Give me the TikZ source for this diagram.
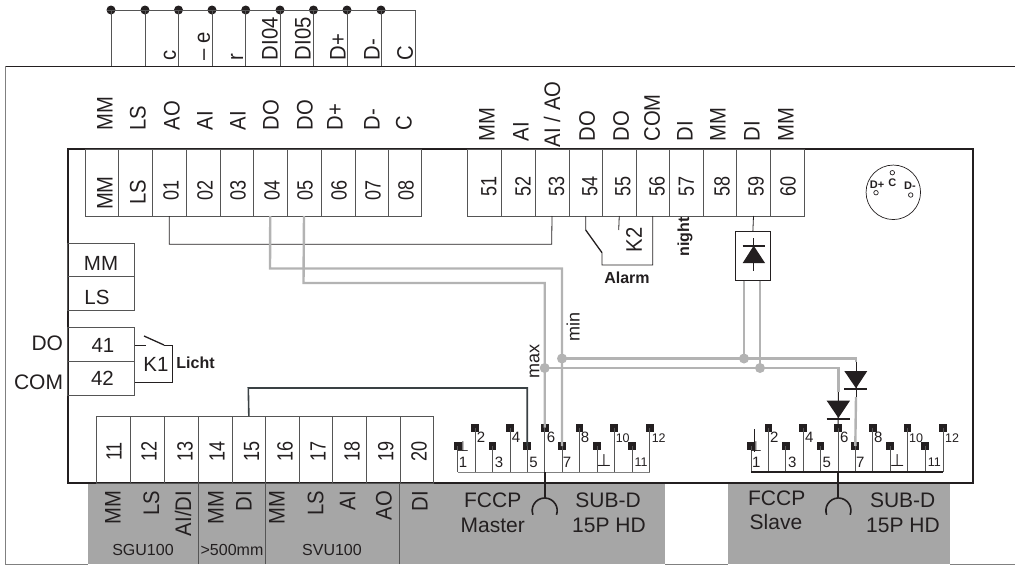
\documentclass[tikz,border=0pt]{standalone}
\usepackage{fontspec}
\setmainfont{Liberation Sans}
\newfontfamily\djv{DejaVu Sans}
\newfontfamily\tallfont[FakeStretch=0.9]{Liberation Sans}
\newfontfamily\numfont[FakeStretch=0.82]{Liberation Sans}
\definecolor{ink}{HTML}{231F20}
\definecolor{wire}{HTML}{B3B3B3}
\definecolor{panel}{HTML}{A6A6A6}
\definecolor{cellline}{HTML}{555555}
\definecolor{slate}{HTML}{3A4144}
\tikzset{
  cell/.style={draw=cellline,line width=0.9pt,anchor=north west,inner sep=0,outer sep=0},
  vtxt/.style={rotate=90,inner sep=0,outer sep=0,text=ink,font=\tallfont\fontsize{22.5}{22.5}\selectfont},
  vup/.style={vtxt,anchor=west},
  vnum/.style={vtxt,anchor=center,font=\numfont\fontsize{22}{22}\selectfont},
  vlow/.style={vtxt,anchor=east},
  htxt/.style={inner sep=0,outer sep=0,text=ink,font=\fontsize{20.5}{20.5}\selectfont},
  bigt/.style={htxt,font=\fontsize{21}{21}\selectfont},
  boldt/.style={inner sep=0,outer sep=0,text=ink,font=\bfseries\fontsize{16}{16}\selectfont},
  pinbox/.style={fill=ink,draw=none,minimum size=7.7pt,inner sep=0,outer sep=0},
  pinnum/.style={inner sep=0,outer sep=0,text=ink,font=\fontsize{15}{15}\selectfont},
  pinsmall/.style={pinnum,font=\fontsize{12.5}{12.5}\selectfont},
  pinground/.style={pinnum,font=\djv\fontsize{17}{17}\selectfont},
  thin wire/.style={draw=ink,line width=0.8pt},
  gray wire/.style={draw=wire,line width=2.4pt},
  junction/.style={circle,fill=wire,draw=none,minimum size=10pt,inner sep=0},
  bus dot/.style={circle,fill=ink,draw=none,minimum size=9pt,inner sep=0},
  small dot/.style={circle,draw=ink,line width=0.7pt,fill=white,minimum size=4.5pt,inner sep=0},
  dintxt/.style={boldt,font=\bfseries\fontsize{11}{11}\selectfont},
  wiretxt/.style={inner sep=0,text=ink,rotate=90,font=\fontsize{18}{18}\selectfont},
}
\begin{document}
\begin{tikzpicture}[x=1pt,y=-1pt]
\useasboundingbox (0,0) rectangle (1015,565);
% grey panels
\node[fill=panel,draw=none,anchor=north west,inner sep=0,minimum width=577pt,minimum height=81pt] (panelA) at (88,483) {};
\node[fill=panel,draw=none,anchor=north west,inner sep=0,minimum width=222pt,minimum height=81pt] (panelB) at (728,483) {};
\draw[cellline,line width=0.9pt] (198,483)--(198,564) (265.5,483)--(265.5,564) (399.5,483)--(399.5,564);
% outer frame
\draw[ink,line width=1pt] (5,66)--(1015,66);
\draw[gray,line width=0.8pt] (5,66)--(5,564)--(88,564) (665,564)--(728,564) (950,564)--(1015,564);
% top bus
\foreach \n/\x in {a/111,b/145,c/178.5,d/212,e/245.7,f/280,g/313.5,h/347,i/381}{
  \node[bus dot] (bus\n) at (\x,10) {};
  \coordinate (foot\n) at (\x,66);
  \draw[cellline,line width=1pt] (bus\n.center)--(foot\n);
}
\coordinate (busend) at (415,10);
\coordinate (busfoot) at (415,66);
\draw[cellline,line width=1pt] (107,10)--(busend)--(busfoot);
\foreach \n/\t/\x in {c/c/170,e/{– e}/204,r/r/237,d4/DI04/270,d5/DI05/303,dp/D+/338,dm/D-/372,cc/C/405}{
  \node[vup] (bl\n) at (\x,60) {\t};
}
% upper labels
\foreach \n/\t/\x in {a/MM/105,b/LS/138,c/AO/172,d/AI/205,e/AI/238,f/DO/271,g/DO/305,h/D+/335,i/D-/372,j/C/404}{
  \node[vup] (ul\n) at (\x,130.5) {\t};
}
\foreach \n/\t/\x in {a/MM/487,b/AI/521,d/DO/587,e/DO/621,f/COM/652,g/DI/685,h/MM/718,i/DI/752,j/MM/786}{
  \node[vup] (vl\n) at (\x,141.5) {\t};
}
\node[vup] (vlc) at (552,147) {AI / AO};
% main box
\node[draw=ink,line width=2pt,anchor=north west,inner sep=0,outer sep=0,minimum width=905pt,minimum height=334pt] (main) at (67.5,149) {};
% upper terminals
\foreach \n/\xa/\w in {mm/85/33.5,ls/118.5/34,01/152.5/33.5,02/186/34,03/220/33.5,04/253.5/33.5,05/287/34,06/321/34,07/355/33,08/388/33.7,
  51/467.7/33.8,52/501.5/33.5,53/535/34,54/569/33.5,55/602.5/33.5,56/636/33.5,57/669.5/34,58/703.5/33,59/736.5/34,60/770.5/33.8}{
  \node[cell,minimum width=\w pt,minimum height=67pt] (t\n) at (\xa,149) {};
}
\node[vtxt,anchor=center] (numMM) at (105,193) {MM};
\node[vtxt,anchor=center] (numLS) at (138,192) {LS};
\foreach \t/\x/\y in {01/171/190,02/205/190,03/238/190,04/272/190,05/305/190,06/339/190,07/373/190,08/406/190,
  51/489/186,52/523/186,53/556.5/186,54/590/186,55/623/186,56/657/186,57/686.5/186,58/722/186,59/756/186,60/788/186}{
  \node[vnum] (num\t) at (\x,\y) {\t};
}
% left terminals
\node[cell,minimum width=67pt,minimum height=33.7pt] (lmm) at (67.5,243) {};
\node[cell,minimum width=67pt,minimum height=34pt] (lls) at (67.5,276.7) {};
\node[cell,minimum width=67pt,minimum height=34pt] (l41) at (67.5,327.7) {};
\node[cell,minimum width=67pt,minimum height=34pt] (l42) at (67.5,361.7) {};
\node[htxt] (txmm) at (101,263.5) {MM};
\node[htxt] (txls) at (97,297) {LS};
\node[htxt] (tx41) at (103,345) {41};
\node[htxt] (tx42) at (102.5,378) {42};
\node[bigt,anchor=east] (txdo) at (63,343) {DO};
\node[bigt,anchor=east] (txcom) at (63,382) {COM};
% K1
\coordinate (k1a) at (146,345);
\coordinate (k1s) at (144,336);
\coordinate (k1b) at (164,345);
\coordinate (k1c) at (172.5,345);
\coordinate (k1d) at (172.5,382.3);
\draw[thin wire] (134.5,345)--(k1a);
\draw[ink,line width=1.3pt] (k1s)--(k1b);
\draw[thin wire] (k1b)--(k1c)--(k1d)--(134.5,382.3);
\node[htxt] (txk1) at (156,364) {K1};
\node[boldt] (txlicht) at (195.5,363) {Licht};
% lower terminals
\foreach \n/\xa/\w in {11/96.7/34,12/130.7/34,13/164.7/33.7,14/198.4/33.6,15/232/33.7,16/265.7/33.8,17/299.5/33,18/332.5/33.8,19/366.3/33.7,20/400/33.7}{
  \node[cell,minimum width=\w pt,minimum height=67pt] (b\n) at (\xa,416) {};
}
\foreach \t/\x in {11/114,12/149,13/185,14/217,15/251.7,16/285,17/318,18/352,19/385.7,20/419}{
  \node[vnum] (numb\t) at (\x,451.5) {\t};
}
% panel labels
\foreach \n/\t/\x in {a/MM/113,b/LS/151.5,d/MM/216,e/DI/244,f/MM/277,g/LS/315.7,h/AI/347.7,i/AO/384,j/DI/420}{
  \node[vlow] (pl\n) at (\x,491) {\t};
}
\node[vlow] (plc) at (183,491) {AI/DI};
\foreach \n/\t/\x in {a/SGU100/143,b/{>500mm}/232,c/SVU100/332}{
  \node[htxt,font=\fontsize{16}{16}\selectfont] (pu\n) at (\x,550) {\t};
}
\node[bigt] (fa) at (492.7,500) {FCCP};
\node[bigt] (fb) at (492.7,525) {Master};
\node[bigt] (fc) at (608,500) {SUB-D};
\node[bigt] (fd) at (609,525) {15P HD};
\node[bigt] (ga) at (776.7,498) {FCCP};
\node[bigt] (gb) at (776,522) {Slave};
\node[bigt] (gc) at (902.7,500) {SUB-D};
\node[bigt] (gd) at (903,525) {15P HD};
% 01-53 link
\coordinate (lk1) at (169.3,244.3);
\coordinate (lk2) at (551.7,244.3);
\draw[thin wire] (t01.south)--(lk1)--(lk2)--(t53.south);
% relay K2
\coordinate (k2a) at (585.7,230);
\coordinate (k2b) at (602,252.7);
\coordinate (k2c) at (602,265);
\coordinate (k2d) at (652.7,265);
\coordinate (k2e) at (618.7,230);
\draw[thin wire] (t54.south)--(k2a);
\draw[ink,line width=1.3pt] (k2a)--(k2b);
\draw[thin wire] (k2b)--(k2c)--(k2d)--(t56.south);
\draw[thin wire] (t55.south)--(k2e);
\node[vtxt,anchor=center] (txk2) at (634,240) {K2};
\node[boldt] (txalarm) at (627,277.7) {Alarm};
\node[boldt,rotate=90] (txnight) at (685,236.7) {night};
% DIN socket
\node[circle,draw=ink,line width=0.7pt,minimum size=54.5pt,inner sep=0] (din) at (893.3,192.3) {};
\node[small dot] (dinp) at (876,192.7) {};
\node[small dot] (dinc) at (892.3,172.7) {};
\node[small dot] (dinm) at (910.7,195) {};
\node[dintxt] (tdp) at (877,184.5) {D+};
\node[dintxt] (tdc) at (892.3,182.5) {C};
\node[dintxt] (tdm) at (910,185.5) {D-};
% master and slave pins
\foreach \p/\x/\y in {1/0/446,2/17.4/427.7,3/34.8/446,4/52.2/427.7,5/69.5/446,6/87/427.7,7/104.3/446,8/121.7/427.7,9/139.2/446,10/156.6/427.7,11/174.2/446,12/192/427.7}{
  \node[pinbox] (m\p) at ({457.7+\x},\y) {};
  \coordinate (mf\p) at ({457.7+\x},472);
  \draw[cellline,line width=0.8pt] (m\p.center)--(mf\p);
  \node[pinbox] (s\p) at ({751+\x},\y) {};
  \coordinate (sf\p) at ({751+\x},472);
  \draw[cellline,line width=0.8pt] (s\p.center)--(sf\p);
}
\draw[gray,line width=1pt] (mf1)--(mf12);
\draw[ink,line width=2pt] (sf1)--(sf12);
\foreach \t/\dx/\y in {1/5.3/462,2/23.3/437.7,3/41.3/462,4/58.3/437.7,5/75.8/462,6/93.3/437.7,7/109.3/462,8/127.3/437.7}{
  \node[pinnum] (mn\t) at ({457.7+\dx},\y) {\t};
  \node[pinnum] (sn\t) at ({751+\dx},\y) {\t};
}
\foreach \w/\o in {m/457.7,s/751}{
  \node[pinsmall] (\w n10) at ({\o+165},437.7) {10};
  \node[pinsmall] (\w n11) at ({\o+183.3},462) {11};
  \node[pinsmall] (\w n12) at ({\o+201},437.7) {12};
  \node[pinground] (\w g) at ({\o+146.3},461) {⊥};
}
\node[pinnum,font=\djv\fontsize{14}{14}\selectfont] (mground) at (463,447) {⊥};
\node[pinnum,font=\djv\fontsize{14}{14}\selectfont] (sground) at (756,447) {⊥};
\coordinate (sgtop) at (754.5,429);
\coordinate (sgbot) at (754.5,452);
\draw[ink,line width=1pt] (sgtop)--(sgbot);
% connectors down to sockets
\foreach \w/\x in {m/544.7,s/838.4}{
  \coordinate (\w st) at (\x,472);
  \coordinate (\w sb) at (\x,498);
  \draw[ink,line width=2pt] (\w st)--(\w sb);
  \draw[ink,line width=1.6pt] (\w sb) arc[start angle=-90,end angle=20,radius=12.5];
  \draw[ink,line width=1.6pt] (\w sb) arc[start angle=-90,end angle=-200,radius=12.5];
}
% 15 to pin 5
\coordinate (w15a) at (248.3,388);
\coordinate (w15b) at (m5.center |- w15a);
\draw[slate,line width=1.6pt] (b15.north)--(w15a)--(w15b)--(m5.center);
% DO wires
\node[junction] (jmax) at (544.7,368) {};
\node[junction] (jmin) at (562,358.5) {};
\node[junction] (jb) at (760,368) {};
\node[junction] (ja) at (744,358.5) {};
\coordinate (g04) at (270,268.5);
\coordinate (g04r) at (562,268.5);
\coordinate (g05) at (303.5,283);
\coordinate (g05r) at (544.7,283);
\draw[gray wire] (t04.south)--(g04)--(g04r)--(jmin.center)--(m7.center);
\draw[gray wire] (t05.south)--(g05)--(g05r)--(jmax.center)--(m6.center);
\node[wiretxt] (txmin) at (573,327) {min};
\node[wiretxt] (txmax) at (534.5,361) {max};
% diode box
\node[draw=ink,line width=0.9pt,anchor=north west,inner sep=0,outer sep=0,minimum width=34.3pt,minimum height=49pt] (dbox) at (735.7,231.7) {};
\draw[thin wire] (t59.south)--(dbox.north);
\coordinate (da) at (753.7,238);
\coordinate (db) at (753.7,271);
\coordinate (dtipL) at (742.7,263);
\coordinate (dtipR) at (765,263);
\coordinate (dapex) at (753.7,245.7);
\draw[ink,line width=0.8pt] (da)--(db);
\fill[ink] (dtipL)--(dtipR)--(dapex)--cycle;
\draw[ink,line width=2pt] (742.7,245.7)--(764.7,245.7);
\draw[gray wire] (744,280.7)--(ja.center);
\draw[gray wire] (760,280.7)--(jb.center);
% horizontals to slave diodes
\coordinate (d1t) at (838.4,392);
\coordinate (d2t) at (856,362);
\draw[gray wire] (jmax.center)--(838.4,368)--(d1t);
\draw[gray wire] (jmin.center)--(856,358.5)--(d2t);
\draw[gray wire] (856,397)--(s7.center);
% slave diodes
\draw[ink,line width=1pt] (d1t)--(s6.center);
\fill[ink] (826.7,400.7)--(850,400.7)--(838.4,418)--cycle;
\draw[ink,line width=2pt] (826.7,418.5)--(850,418.5);
\draw[ink,line width=1pt] (d2t)--(856,397);
\fill[ink] (844.3,371)--(867.3,371)--(856,388.3)--cycle;
\draw[ink,line width=2pt] (844.3,388.5)--(867.3,388.5);
\end{tikzpicture}
\end{document}
